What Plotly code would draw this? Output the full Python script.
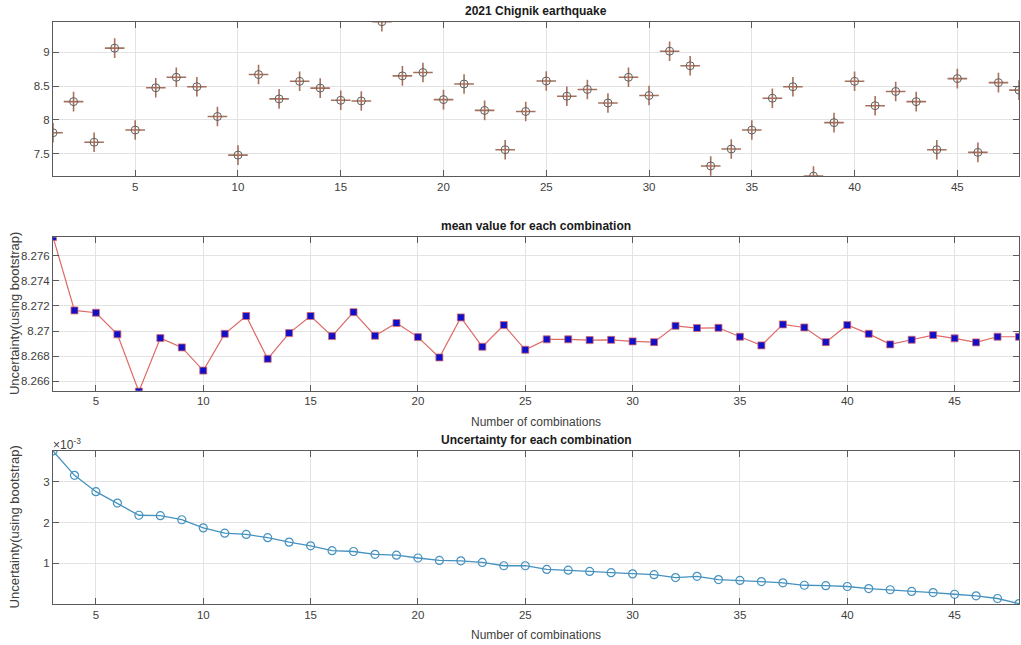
import plotly.graph_objects as go

# ---------------- data ----------------
eq_index = list(range(1, 49))
eq_values = [7.81, 8.27, 7.67, 9.06, 7.85, 8.475, 8.63, 8.49, 8.05, 7.48,
             8.67, 8.31, 8.57, 8.47, 8.29, 8.28, 9.45, 8.65, 8.70, 8.30,
             8.53, 8.14, 7.56, 8.125, 8.575, 8.35, 8.45, 8.25, 8.63, 8.36,
             9.015, 8.80, 7.32, 7.57, 7.85, 8.32, 8.49, 7.17, 7.96, 8.57,
             8.21, 8.42, 8.27, 7.56, 8.61, 7.52, 8.55, 8.44]

n_comb = list(range(3, 49))
mean_values = [8.2775, 8.27165, 8.27146, 8.26974, 8.26518, 8.26944, 8.2687, 8.26685,
               8.26978, 8.2712, 8.26779, 8.26984, 8.2712, 8.2696, 8.27151, 8.26963,
               8.27064, 8.26952, 8.2679, 8.27109, 8.26875, 8.27048, 8.26851, 8.26934,
               8.26934, 8.26928, 8.2693, 8.26918, 8.26912, 8.27042, 8.27024, 8.27026,
               8.26955, 8.26886, 8.27053, 8.27029, 8.26912, 8.27048, 8.26978, 8.26894,
               8.26931, 8.26968, 8.26942, 8.2691, 8.26955, 8.26955]
uncertainty = [3.76e-3, 3.16e-3, 2.76e-3, 2.48e-3, 2.18e-3, 2.17e-3, 2.07e-3, 1.87e-3,
               1.74e-3, 1.71e-3, 1.63e-3, 1.52e-3, 1.43e-3, 1.31e-3, 1.29e-3, 1.22e-3,
               1.20e-3, 1.13e-3, 1.07e-3, 1.06e-3, 1.02e-3, 0.94e-3, 0.94e-3, 0.85e-3,
               0.83e-3, 0.80e-3, 0.77e-3, 0.74e-3, 0.72e-3, 0.65e-3, 0.68e-3, 0.60e-3,
               0.58e-3, 0.55e-3, 0.52e-3, 0.46e-3, 0.45e-3, 0.43e-3, 0.38e-3, 0.35e-3,
               0.31e-3, 0.28e-3, 0.24e-3, 0.20e-3, 0.135e-3, 0.01e-3]

x_ticks = [5, 10, 15, 20, 25, 30, 35, 40, 45]
top_yticks = [7.5, 8, 8.5, 9]
top_yticklabels = ["7.5", "8", "8.5", "9"]
mid_yticks = [8.266, 8.268, 8.27, 8.272, 8.274, 8.276]
mid_yticklabels = ["8.266", "8.268", "8.27", "8.272", "8.274", "8.276"]
bot_yticks = [1e-3, 2e-3, 3e-3]
bot_yticklabels = ["1", "2", "3"]

titles = ["2021 Chignik earthquake", "mean value for each combination",
          "Uncertainty for each combination"]
y_label = "Uncertainty(using bootstrap)"
x_label = "Number of combinations"

# ---------------- figure ----------------
FONT = "Liberation Sans, Arial, sans-serif"
AX = "#5a5a5a"
GRID = "#e3e3e3"
TICKF = dict(family=FONT, size=11.5, color="#404040")

fig = go.Figure()

# top panel: cross + circle markers
fig.add_trace(go.Scatter(x=eq_index, y=eq_values, mode="markers",
                         marker=dict(symbol="cross-thin-open", size=14, color="#a8705c",
                                     line=dict(color="#a8705c", width=1.6)),
                         xaxis="x", yaxis="y", showlegend=False))
fig.add_trace(go.Scatter(x=eq_index, y=eq_values, mode="markers",
                         marker=dict(symbol="circle-open", size=8, color="#5f5f5f",
                                     line=dict(color="#5f5f5f", width=1)),
                         xaxis="x", yaxis="y", showlegend=False))

# middle panel
fig.add_trace(go.Scatter(x=n_comb, y=mean_values, mode="lines+markers",
                         line=dict(color="#dc6a68", width=1.2),
                         marker=dict(symbol="square", size=7, color="#1010c8",
                                     line=dict(color="#dc6a68", width=0.8)),
                         xaxis="x2", yaxis="y2", showlegend=False))

# bottom panel
fig.add_trace(go.Scatter(x=n_comb, y=uncertainty, mode="lines+markers",
                         line=dict(color="#4592bf", width=1.3),
                         marker=dict(symbol="circle-open", size=8, color="#4592bf",
                                     line=dict(color="#4592bf", width=1.2)),
                         xaxis="x3", yaxis="y3", showlegend=False))


def xax(rng, anchor):
    return dict(range=rng, tickvals=x_ticks, ticks="inside", ticklen=6,
                tickcolor=AX, showline=True, linecolor=AX, linewidth=1,
                mirror="ticks", showgrid=True, gridcolor=GRID, zeroline=False,
                tickfont=TICKF, anchor=anchor, domain=[0, 1], automargin=False)


def yax(rng, dom, anchor, tv, tt):
    return dict(range=rng, domain=dom, tickvals=tv, ticktext=tt, ticks="inside",
                ticklen=6, tickcolor=AX, showline=True, linecolor=AX, linewidth=1,
                mirror="ticks", showgrid=True, gridcolor=GRID, zeroline=False,
                tickfont=TICKF, anchor=anchor, automargin=False)


fig.update_layout(
    width=1021, height=645,
    margin=dict(l=53, r=2, t=22, b=41),
    paper_bgcolor="white", plot_bgcolor="white",
    font=dict(family=FONT, size=12, color="#262626"),
    xaxis=xax([1, 48], "y"),
    yaxis=yax([7.168, 9.446], [0.735, 1.0], "x", top_yticks, top_yticklabels),
    xaxis2=xax([3, 48], "y2"),
    yaxis2=yax([8.26525, 8.27747], [0.3665, 0.630], "x2", mid_yticks, mid_yticklabels),
    xaxis3=xax([3, 48], "y3"),
    yaxis3=yax([0.0, 3.76e-3], [0.0, 0.263], "x3", bot_yticks, bot_yticklabels),
)

ann = []
title_y = [1.0, 0.630, 0.263]
for t, yy in zip(titles, title_y):
    ann.append(dict(text="<b>%s</b>" % t, x=0.5, y=yy, xref="paper", yref="paper",
                    xanchor="center", yanchor="bottom", yshift=2, showarrow=False,
                    font=dict(family=FONT, size=12, color="#1a1a1a")))
# y labels
for yc in [(0.3665 + 0.630) / 2, 0.263 / 2]:
    ann.append(dict(text=y_label, x=0, y=yc, xref="paper", yref="paper",
                    xanchor="center", yanchor="middle", xshift=-39, showarrow=False,
                    textangle=-90, font=dict(family=FONT, size=13, color="#404040")))
# x labels
for yb in [0.3665, 0.0]:
    ann.append(dict(text=x_label, x=0.5, y=yb, xref="paper", yref="paper",
                    xanchor="center", yanchor="top", yshift=-22, showarrow=False,
                    font=dict(family=FONT, size=12, color="#404040")))
# exponent label
ann.append(dict(text="\u00d710<sup>-3</sup>", x=0, y=0.263, xref="paper", yref="paper",
                xanchor="left", yanchor="bottom", xshift=-2, yshift=-3, showarrow=False,
                font=dict(family=FONT, size=12, color="#404040")))
fig.update_layout(annotations=ann)

fig.write_html("out.html", config={"displayModeBar": False},
               post_script="document.body.style.margin='0';")
